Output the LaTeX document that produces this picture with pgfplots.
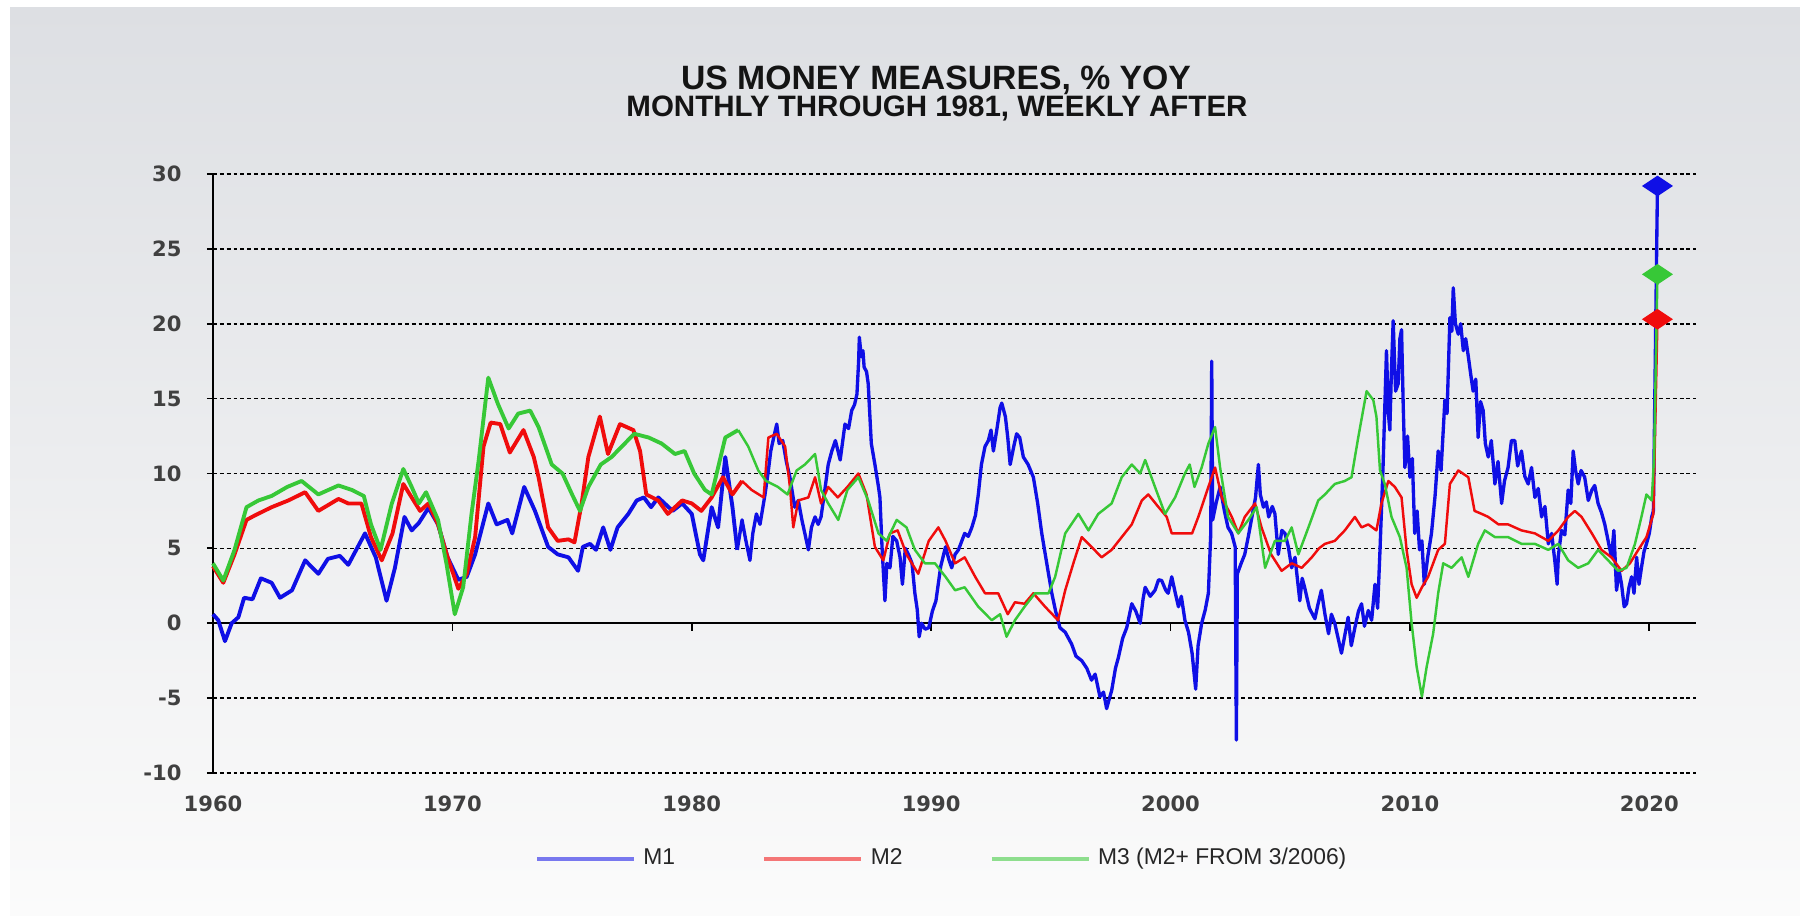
\documentclass[border=0pt]{standalone}
\usepackage{pgfplots}
\pgfplotsset{compat=1.18}
\usepackage{pgfplotstable}
\usepackage{fontspec}
\setmainfont{Liberation Sans}
\newfontfamily\tickfont{DejaVu Sans}
\definecolor{mone}{RGB}{15,15,230}
\definecolor{mtwo}{RGB}{240,12,12}
\definecolor{mthree}{RGB}{55,200,55}

\pgfplotstableread{
x y
1960.00 0.6
1960.22 0.2
1960.50 -1.2
1960.78 0.0
1961.06 0.4
1961.30 1.7
1961.65 1.6
1962.00 3.0
1962.45 2.7
1962.80 1.7
1963.30 2.2
1963.85 4.2
1964.40 3.3
1964.80 4.3
1965.30 4.5
1965.65 3.9
1966.35 6.0
1966.80 4.4
1967.25 1.5
1967.60 3.7
1968.00 7.1
1968.30 6.2
1968.60 6.7
1969.00 7.7
1969.40 6.6
1969.80 4.4
1970.25 2.9
1970.60 3.1
1970.95 4.6
1971.50 8.0
1971.85 6.6
1972.30 6.9
1972.50 6.0
1973.00 9.1
1973.45 7.5
1974.00 5.1
1974.40 4.6
1974.85 4.4
1975.25 3.5
1975.45 5.1
1975.75 5.3
1976.00 4.9
1976.30 6.4
1976.60 4.9
1976.90 6.4
1977.35 7.3
1977.70 8.2
1978.00 8.4
1978.30 7.75
1978.60 8.4
1979.20 7.5
1979.60 8.0
1980.00 7.3
1980.34 4.6
1980.48 4.2
1980.83 7.75
1981.10 6.4
1981.40 11.1
1981.70 7.75
1981.90 4.9
}\mOneA

\pgfplotstableread{
x y
1981.90 4.9
1982.10 6.9
1982.25 5.6
1982.43 4.2
1982.55 6.0
1982.70 7.3
1982.85 6.6
1983.06 8.6
1983.20 10.2
1983.30 11.5
1983.45 12.6
1983.55 13.3
1983.65 12.0
1983.80 12.2
1983.95 10.8
1984.10 9.75
1984.30 7.75
1984.45 8.2
1984.60 6.9
1984.75 5.8
1984.87 4.9
1985.00 6.4
1985.15 7.1
1985.28 6.6
1985.40 7.1
1985.55 8.8
1985.70 10.6
1985.85 11.5
1986.00 12.2
1986.20 10.9
1986.40 13.3
1986.55 13.0
1986.68 14.2
1986.80 14.6
1986.90 15.3
1986.97 17.5
1987.00 19.1
1987.08 17.8
1987.15 18.2
1987.20 17.1
1987.30 16.8
1987.37 16.0
1987.50 12.0
1987.65 10.6
1987.80 9.1
1987.86 8.4
1987.95 5.0
1988.07 1.5
1988.15 4.0
1988.28 3.7
1988.40 5.8
1988.56 5.5
1988.70 4.4
1988.80 2.6
1988.92 5.0
1989.05 4.6
1989.20 4.0
1989.32 2.0
1989.42 0.9
1989.50 -0.9
1989.60 0.0
1989.75 -0.4
1989.90 -0.3
1990.05 0.8
1990.20 1.5
1990.40 3.8
1990.60 5.1
1990.75 4.2
1990.86 3.7
1991.00 4.6
1991.14 4.9
1991.40 6.0
1991.55 5.8
1991.70 6.4
1991.85 7.2
1991.97 8.6
1992.10 10.6
1992.25 11.8
1992.39 12.2
1992.50 12.9
1992.60 11.5
1992.75 13.0
1992.88 14.4
1992.95 14.7
1993.10 13.8
1993.20 12.4
1993.30 10.6
1993.45 11.8
1993.57 12.65
1993.70 12.4
1993.85 11.1
1994.05 10.6
1994.27 9.75
1994.45 8.0
1994.62 6.0
1994.85 3.8
1995.04 2.0
1995.20 0.8
1995.38 -0.3
1995.60 -0.6
1995.87 -1.4
1996.05 -2.2
1996.29 -2.5
1996.50 -3.0
1996.70 -3.8
1996.85 -3.4
1997.05 -4.9
1997.20 -4.6
1997.33 -5.7
1997.45 -5.0
1997.54 -4.5
1997.70 -3.0
1997.82 -2.3
1998.00 -1.0
1998.17 -0.3
1998.38 1.3
1998.55 0.8
1998.73 0.0
1998.85 1.6
1998.94 2.4
1999.15 1.8
1999.35 2.2
1999.50 2.9
1999.63 2.85
1999.80 2.2
1999.90 2.0
2000.05 3.1
2000.20 2.0
2000.33 1.1
2000.45 1.8
2000.60 0.2
2000.75 -0.6
2000.90 -2.0
2001.05 -4.4
2001.15 -1.5
2001.30 0.0
2001.45 0.9
2001.58 2.0
2001.68 6.0
2001.72 17.5
2001.76 6.9
2001.90 8.0
2002.07 9.1
2002.25 7.5
2002.40 6.4
2002.55 6.0
2002.70 5.1
2002.75 -7.8
2002.79 3.3
2002.95 4.0
2003.10 4.6
2003.25 5.8
2003.40 7.1
2003.55 8.4
2003.67 10.6
2003.75 8.6
2003.88 7.75
2004.00 8.1
2004.10 7.1
2004.25 7.8
2004.36 7.3
2004.50 4.6
2004.65 6.2
2004.78 6.0
2004.92 5.1
2005.06 3.7
2005.20 4.4
2005.40 1.5
2005.50 3.0
2005.60 2.4
2005.80 1.0
2006.03 0.3
2006.15 1.2
2006.30 2.2
2006.45 0.6
2006.60 -0.7
2006.72 0.6
2006.86 0.0
2007.00 -1.0
2007.14 -2.0
2007.28 -0.8
2007.42 0.4
2007.55 -1.5
2007.70 -0.3
2007.85 0.8
2007.98 1.3
2008.10 -0.2
2008.26 0.85
2008.40 0.2
2008.54 2.6
2008.65 1.0
2008.75 4.9
2008.88 10.6
2009.02 18.2
2009.10 14.0
2009.16 12.9
2009.23 17.0
2009.30 20.2
2009.40 15.5
2009.51 16.0
2009.58 19.0
2009.65 19.6
2009.72 14.5
2009.79 10.4
2009.90 12.5
2010.00 9.75
2010.10 11.0
2010.20 6.0
2010.30 7.5
2010.40 4.9
2010.50 5.5
2010.60 2.6
2010.75 4.5
2010.90 6.0
2011.05 8.5
2011.18 11.5
2011.30 10.2
2011.46 14.9
2011.55 14.0
2011.67 20.4
2011.75 19.5
2011.81 22.4
2011.90 20.0
2012.02 19.3
2012.12 20.0
2012.23 18.2
2012.33 19.0
2012.44 17.8
2012.55 16.5
2012.64 15.5
2012.75 16.3
2012.85 12.4
2012.95 14.8
2013.06 14.2
2013.15 12.0
2013.27 11.1
2013.40 12.2
2013.55 9.3
2013.68 10.8
2013.83 8.0
2013.95 9.5
2014.10 10.4
2014.24 12.2
2014.38 12.2
2014.50 10.5
2014.66 11.5
2014.80 9.8
2014.94 9.3
2015.08 10.4
2015.22 8.4
2015.36 9.0
2015.50 7.1
2015.64 7.8
2015.78 5.3
2015.92 6.0
2016.05 4.2
2016.15 2.6
2016.20 4.5
2016.33 6.2
2016.47 5.9
2016.61 8.9
2016.72 8.0
2016.82 11.5
2016.92 10.2
2017.03 9.3
2017.15 10.2
2017.30 9.75
2017.45 8.2
2017.60 8.9
2017.72 9.2
2017.86 8.0
2018.00 7.4
2018.14 6.6
2018.28 5.5
2018.42 4.4
2018.52 6.2
2018.63 2.2
2018.74 3.5
2018.84 2.6
2018.95 1.1
2019.05 1.3
2019.15 2.4
2019.26 3.1
2019.36 2.0
2019.47 4.4
2019.57 2.6
2019.67 3.7
2019.78 4.8
2019.88 5.3
2020.00 6.0
2020.10 7.1
2020.17 7.5
2020.34 29.2
}\mOneB

\pgfplotstableread{
x y
1960.00 3.8
1960.43 2.7
1960.90 4.6
1961.40 6.9
1961.75 7.2
1962.45 7.75
1963.15 8.2
1963.85 8.75
1964.40 7.5
1965.24 8.3
1965.65 8.0
1966.20 8.0
1966.60 5.75
1967.05 4.2
1967.50 6.0
1967.95 9.3
1968.30 8.4
1968.65 7.5
1969.00 8.0
1969.40 6.6
1969.80 4.4
1970.25 2.3
1970.60 3.3
1970.95 5.75
1971.30 11.8
1971.60 13.4
1972.00 13.3
1972.40 11.4
1972.97 12.9
1973.40 11.1
1973.60 9.75
1974.00 6.4
1974.40 5.5
1974.85 5.6
1975.10 5.4
1975.40 8.0
1975.68 11.1
1976.16 13.8
1976.50 11.3
1977.00 13.3
1977.56 12.9
1977.84 11.5
1978.10 8.6
1978.60 8.2
1979.00 7.3
1979.60 8.2
1980.00 8.0
1980.40 7.5
1980.83 8.4
1981.30 9.75
1981.70 8.6
1982.10 9.5
}\mTwoA

\pgfplotstableread{
x y
1982.10 9.5
1982.50 8.9
1983.00 8.4
1983.20 12.4
1983.55 12.65
1983.90 11.8
1984.10 9.1
1984.24 6.4
1984.45 8.2
1984.87 8.4
1985.15 9.75
1985.40 8.0
1985.70 9.1
1986.10 8.4
1986.50 9.1
1986.96 10.0
1987.30 8.6
1987.65 5.1
1988.00 4.2
1988.28 6.0
1988.60 6.2
1988.97 4.6
1989.46 3.3
1989.90 5.5
1990.30 6.4
1990.60 5.5
1991.00 4.0
1991.40 4.4
1991.84 3.1
1992.25 2.0
1992.80 2.0
1993.20 0.6
1993.50 1.4
1993.90 1.3
1994.27 2.0
1994.76 1.1
1995.30 0.2
1995.60 2.2
1995.94 4.0
1996.29 5.75
1996.70 5.1
1997.12 4.4
1997.54 4.9
1997.96 5.75
1998.38 6.6
1998.80 8.2
1999.07 8.6
1999.50 7.75
1999.84 7.1
2000.05 6.0
2000.47 6.0
2000.90 6.0
2001.16 7.1
2001.58 9.1
2001.86 10.4
2002.14 8.4
2002.56 7.1
2002.83 6.0
2003.10 7.1
2003.53 8.0
2003.80 6.4
2004.20 4.6
2004.64 3.5
2005.06 4.0
2005.48 3.7
2005.90 4.4
2006.20 5.0
2006.45 5.3
2006.86 5.5
2007.28 6.2
2007.70 7.1
2007.98 6.4
2008.26 6.6
2008.60 6.2
2008.81 8.0
2009.10 9.5
2009.37 9.1
2009.65 8.4
2009.86 4.9
2010.07 2.6
2010.28 1.7
2010.50 2.4
2010.76 3.1
2011.18 4.9
2011.46 5.3
2011.67 9.3
2012.02 10.2
2012.44 9.75
2012.70 7.5
2013.00 7.3
2013.27 7.1
2013.70 6.6
2014.10 6.6
2014.66 6.2
2015.22 6.0
2015.78 5.5
2016.20 6.2
2016.61 7.1
2016.89 7.5
2017.17 7.1
2017.60 6.0
2018.00 4.9
2018.42 4.4
2018.84 3.5
2019.19 4.0
2019.54 4.9
2019.88 5.75
2020.17 7.3
2020.34 20.3
}\mTwoB

\pgfplotstableread{
x y
1960.00 4.0
1960.43 2.85
1960.90 4.9
1961.40 7.75
1961.90 8.2
1962.45 8.5
1963.10 9.1
1963.70 9.5
1964.40 8.6
1965.24 9.2
1965.80 8.9
1966.30 8.5
1966.60 6.6
1967.00 4.9
1967.47 8.0
1967.95 10.3
1968.30 9.1
1968.60 8.0
1968.90 8.75
1969.40 6.9
1969.75 4.0
1970.10 0.6
1970.45 2.4
1970.80 7.3
1971.10 10.9
1971.50 16.4
1971.90 14.65
1972.35 13.0
1972.75 14.0
1973.25 14.2
1973.60 13.1
1974.15 10.6
1974.60 10.0
1975.00 8.6
1975.33 7.5
1975.68 9.1
1976.20 10.6
1976.65 11.1
1977.20 12.0
1977.60 12.65
1978.20 12.4
1978.74 12.0
1979.30 11.3
1979.70 11.5
1980.10 10.0
1980.55 8.9
1980.83 8.6
1981.10 10.4
1981.40 12.4
1981.94 12.9
}\mThreeA

\pgfplotstableread{
x y
1981.94 12.9
1982.36 11.8
1982.78 10.2
1983.10 9.5
1983.60 9.1
1984.00 8.6
1984.38 10.2
1984.73 10.6
1985.15 11.3
1985.40 8.9
1985.70 8.0
1986.12 6.9
1986.50 8.9
1986.96 9.75
1987.37 8.2
1987.80 6.0
1988.14 5.5
1988.56 6.9
1988.97 6.4
1989.32 4.9
1989.74 4.0
1990.16 4.0
1990.60 3.1
1991.00 2.2
1991.40 2.4
1991.97 1.1
1992.53 0.2
1992.88 0.6
1993.15 -0.9
1993.50 0.2
1993.90 1.1
1994.34 2.0
1994.90 2.0
1995.18 3.1
1995.60 6.0
1996.15 7.3
1996.57 6.2
1996.98 7.3
1997.54 8.0
1997.96 9.75
1998.38 10.6
1998.73 10.0
1998.94 10.9
1999.35 9.1
1999.77 7.3
2000.19 8.4
2000.60 10.0
2000.80 10.6
2001.00 9.1
2001.30 10.4
2001.58 12.0
2001.86 13.1
2002.07 10.4
2002.40 7.1
2002.83 6.0
2003.25 6.9
2003.60 7.75
2003.95 3.7
2004.36 5.5
2004.78 5.5
2005.06 6.4
2005.34 4.6
2005.76 6.4
2006.17 8.2
2006.45 8.6
2006.86 9.3
2007.28 9.5
2007.56 9.75
2007.84 12.4
2008.19 15.5
2008.47 14.9
2008.60 13.8
2008.75 10.2
2008.95 9.3
2009.23 7.1
2009.58 5.75
2009.86 3.7
2010.07 0.0
2010.28 -2.9
2010.50 -4.9
2010.70 -2.9
2010.97 -0.7
2011.18 2.0
2011.39 4.0
2011.74 3.7
2012.16 4.4
2012.44 3.1
2012.85 5.3
2013.13 6.2
2013.55 5.75
2014.10 5.75
2014.66 5.3
2015.22 5.3
2015.78 4.9
2016.20 5.3
2016.61 4.2
2017.03 3.7
2017.45 4.0
2017.86 4.9
2018.28 4.2
2018.70 3.5
2019.05 3.7
2019.40 5.3
2019.67 7.1
2019.88 8.6
2020.10 8.2
2020.20 11.1
2020.34 23.3
}\mThreeB

\begin{document}
\begin{tikzpicture}
\fill[white] (0,0) rectangle (18,9.16);
\shade[top color={rgb,255:red,221;green,223;blue,227}, bottom color={rgb,255:red,251;green,251;blue,251}] (0.1,0) rectangle (18,9.08);
\node[inner sep=0pt, font=\bfseries\fontsize{9.6}{11}\selectfont, text=black!92] at (9.36,8.36) {US MONEY MEASURES, \% YOY};
\node[inner sep=0pt, font=\bfseries\fontsize{8.4}{10}\selectfont, text=black!92] at (9.37,8.07) {MONTHLY THROUGH 1981, WEEKLY AFTER};
\begin{axis}[
  at={(2.13cm,1.43cm)}, anchor=south west,
  scale only axis, width=14.83cm, height=5.99cm,
  xmin=1960, xmax=2021.95, ymin=-10, ymax=30,
  axis x line*=bottom, axis y line*=left,
  x axis line style={draw=none},
  y axis line style={-, black, line width=0.65pt},
  xtick={1960,1970,...,2020},
  ytick={-10,-5,5,10,15,20,25,30},
  extra y ticks={0},
  extra y tick style={grid style={solid, black, line width=0.65pt, dash pattern=}},
  xtick style={draw=none},
  ytick style={black, line width=0.5pt},
  tick align=outside, major tick length=0.06cm,
  ymajorgrids,
  grid style={black, line width=0.45pt, dash pattern=on 1.1pt off 0.85pt},
  tick label style={font=\tickfont\bfseries\fontsize{6}{7}\selectfont, text=black!75},
  /pgf/number format/assume math mode=true,
  /pgf/number format/1000 sep={},
  yticklabel shift=0.13cm,
  xticklabel shift=0.04cm,
  legend style={at={(0.493,-0.1436)}, anchor=center, legend columns=3, draw=none, fill=none,
    font=\fontsize{6.5}{8}\selectfont, text=black!85,
    /tikz/every even column/.append style={column sep=0.8cm}},
  legend image code/.code={\draw[#1, line width=1.3pt, opacity=0.55] (0cm,0cm) -- (0.97cm,0cm);},
  clip=false,
]
\pgfplotsinvokeforeach{1970,1980,1990,2000,2010,2020}{
  \draw[black, line width=0.5pt] (axis cs:#1,0) -- ([yshift=-0.08cm]axis cs:#1,0);
}
\addplot[mone, line width=1.1pt, line join=round] table {\mOneA};
\addlegendentry{M1}
\addplot[mtwo, line width=1.1pt, line join=round] table {\mTwoA};
\addlegendentry{M2}
\addplot[mthree, line width=1.1pt, line join=round] table {\mThreeA};
\addlegendentry{M3 (M2+ FROM 3/2006)}
\addplot[mone, line width=0.95pt, line join=round, forget plot] table {\mOneB};
\addplot[mtwo, line width=0.7pt, line join=round, forget plot] table {\mTwoB};
\addplot[mthree, line width=0.7pt, line join=round, forget plot] table {\mThreeB};
\addplot[only marks, mark=diamond*, mark size=0.095cm, mark options={xscale=2, fill=mone, draw=mone}, forget plot] coordinates {(2020.34,29.2)};
\addplot[only marks, mark=diamond*, mark size=0.095cm, mark options={xscale=2, fill=mthree, draw=mthree}, forget plot] coordinates {(2020.34,23.3)};
\addplot[only marks, mark=diamond*, mark size=0.095cm, mark options={xscale=2, fill=mtwo, draw=mtwo}, forget plot] coordinates {(2020.34,20.3)};
\end{axis}
\pgfresetboundingbox
\path[use as bounding box] (0,0) rectangle (18,9.16);
\end{tikzpicture}
\end{document}
